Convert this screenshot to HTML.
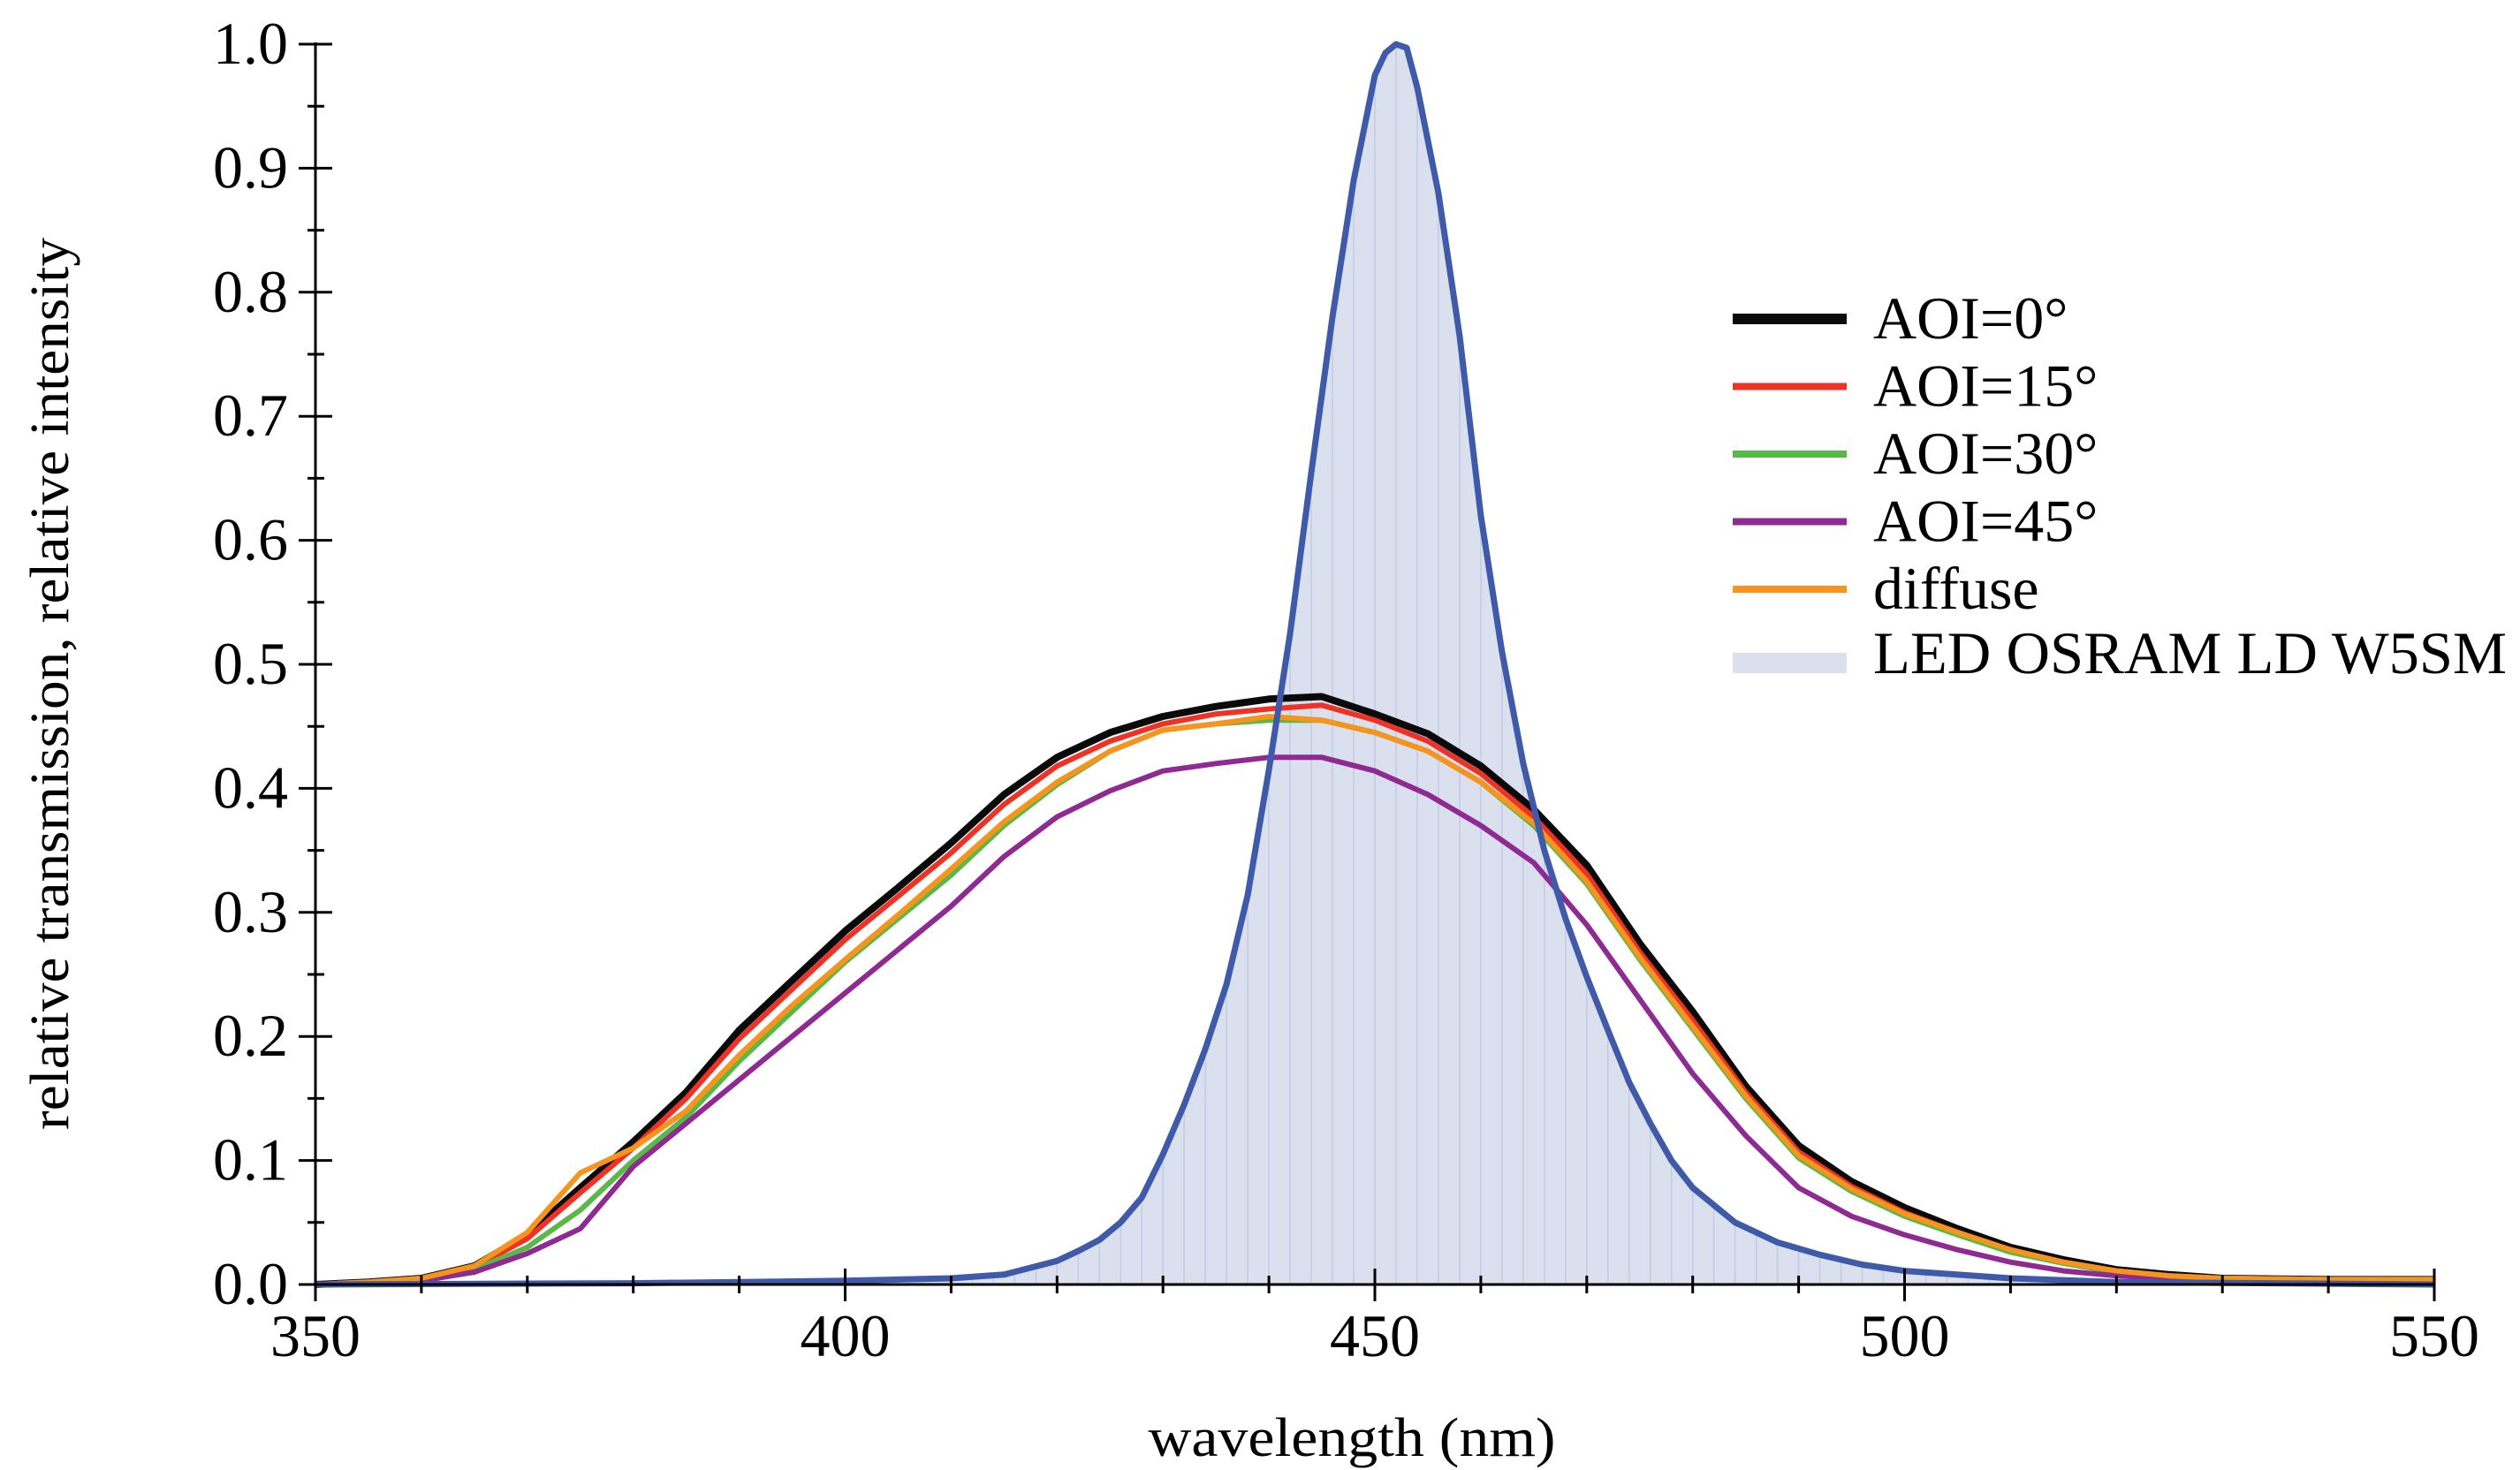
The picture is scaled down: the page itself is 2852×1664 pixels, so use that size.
<!DOCTYPE html>
<html><head><meta charset="utf-8">
<style>
html,body{margin:0;padding:0;background:#fff;}
svg{display:block;font-family:"Liberation Serif","DejaVu Serif",serif;}
</style></head>
<body>
<svg id="chart" width="2852" height="1664" viewBox="0 0 2852 1664" xmlns="http://www.w3.org/2000/svg">
<defs><clipPath id="ledClip"><path id="ledClipPath" d=""/></clipPath></defs>
<g id="plot"></g>
<g id="axes"></g>
<text transform="translate(77,774) rotate(-90)" text-anchor="middle" font-size="62" textLength="1010" lengthAdjust="spacingAndGlyphs">relative transmission, relative intensity</text>
<text x="1530" y="1648" text-anchor="middle" font-size="62" textLength="461" lengthAdjust="spacingAndGlyphs">wavelength  (nm)</text>
<g id="legend"></g>
</svg>
<script>
const wavelengths = [350,355,360,365,370,375,380,385,390,395,400,405,410,415,420,425,430,435,440,445,450,455,460,465,470,475,480,485,490,495,500,505,510,515,520,525,530,540,550];
const aoi0   = [0.0,0.002,0.005,0.015,0.04,0.078,0.115,0.155,0.205,0.245,0.285,0.32,0.356,0.395,0.425,0.445,0.458,0.466,0.472,0.474,0.46,0.444,0.418,0.383,0.338,0.275,0.22,0.16,0.112,0.083,0.062,0.045,0.03,0.02,0.012,0.008,0.005,0.004,0.004];
const aoi15  = [0.0,0.002,0.005,0.014,0.037,0.074,0.11,0.15,0.198,0.238,0.278,0.313,0.348,0.387,0.418,0.438,0.452,0.46,0.464,0.467,0.455,0.438,0.412,0.377,0.331,0.268,0.213,0.155,0.107,0.079,0.058,0.042,0.028,0.018,0.011,0.007,0.005,0.004,0.004];
const aoi30  = [0.0,0.001,0.004,0.012,0.03,0.06,0.1,0.135,0.18,0.22,0.26,0.295,0.33,0.37,0.403,0.43,0.447,0.452,0.455,0.455,0.445,0.43,0.405,0.37,0.323,0.262,0.206,0.15,0.102,0.075,0.055,0.04,0.026,0.017,0.01,0.007,0.005,0.004,0.004];
const aoi45  = [0.0,0.001,0.003,0.01,0.025,0.045,0.095,0.13,0.165,0.2,0.235,0.27,0.305,0.345,0.377,0.398,0.414,0.42,0.425,0.425,0.414,0.395,0.37,0.34,0.29,0.23,0.17,0.12,0.078,0.055,0.04,0.028,0.018,0.011,0.007,0.005,0.004,0.003,0.003];
const diffuse= [0.0,0.002,0.005,0.015,0.042,0.09,0.11,0.14,0.185,0.225,0.262,0.298,0.335,0.373,0.405,0.43,0.447,0.452,0.458,0.455,0.445,0.43,0.405,0.372,0.325,0.264,0.208,0.152,0.104,0.077,0.057,0.042,0.028,0.018,0.011,0.007,0.005,0.004,0.004];
const ledNm  = [350,380,390,400,410,415,420,422,424,426,428,430,432,434,436,438,440,442,444,446,448,450,451,452,453,454,456,458,460,462,464,466,468,470,472,474,476,478,480,484,488,492,496,500,510,520,550];
const ledVal = [0,0.001,0.002,0.003,0.005,0.008,0.019,0.027,0.036,0.05,0.07,0.105,0.145,0.19,0.242,0.314,0.415,0.525,0.655,0.78,0.89,0.975,0.993,1.0,0.997,0.965,0.88,0.765,0.62,0.51,0.42,0.35,0.295,0.248,0.205,0.163,0.13,0.1,0.078,0.05,0.034,0.024,0.016,0.011,0.005,0.002,0.0];
const yTicks = [0.0,0.1,0.2,0.3,0.4,0.5,0.6,0.7,0.8,0.9,1.0];
const yTickLabels = ["0.0","0.1","0.2","0.3","0.4","0.5","0.6","0.7","0.8","0.9","1.0"];
const xTicks = [350,400,450,500,550];
const xTickLabels = ["350","400","450","500","550"];
const legendLabels = ["AOI=0°","AOI=15°","AOI=30°","AOI=45°","diffuse","LED OSRAM  LD W5SM"];

const NS = "http://www.w3.org/2000/svg";
function X(nm){ return 357 + (nm-350)*(2755-357)/200; }
function Y(v){ return 1454 - v*1404; }
function mk(tag, attrs, parent){ const e=document.createElementNS(NS,tag); for(const k in attrs) e.setAttribute(k,attrs[k]); parent.appendChild(e); return e; }
const plot=document.getElementById('plot'), axes=document.getElementById('axes'), legend=document.getElementById('legend');

let ledD = "M"+X(ledNm[0])+","+Y(0);
ledNm.forEach((n,i)=>{ ledD += " L"+X(n).toFixed(1)+","+Y(ledVal[i]).toFixed(1); });
ledD += " L"+X(ledNm[ledNm.length-1])+","+Y(0)+" Z";
document.getElementById('ledClipPath').setAttribute('d', ledD);
const fill = mk('path',{d:ledD, fill:'#dae0ee', stroke:'none'}, plot);


const hatch = mk('g',{'clip-path':'url(#ledClip)'}, plot);


for(let n=380;n<=550;n+=2){ mk('line',{x1:X(n),x2:X(n),y1:Y(1.02),y2:Y(0),stroke:'#c4cbe4','stroke-width':1.5}, hatch); }

function line(xs, ys, color, w, name){
  const p = xs.map((n,i)=>(i?'L':'M')+X(n).toFixed(1)+','+Y(ys[i]).toFixed(1)).join(' ');
  const el = mk('path',{d:p, fill:'none', stroke:color, 'stroke-width':w, 'stroke-linejoin':'round'}, plot);
  
  
}
line(wavelengths, aoi0, '#0a0a0a', 8, 'series-aoi-0');
line(wavelengths, aoi15, '#ee3226', 6, 'series-aoi-15');
line(wavelengths, aoi30, '#58b848', 6, 'series-aoi-30');
line(wavelengths, aoi45, '#8e2a92', 6, 'series-aoi-45');
line(wavelengths, diffuse, '#f7941d', 6, 'series-diffuse');
line(ledNm, ledVal, '#3f5aa8', 7, 'series-led');

const ya = mk('line',{x1:357,x2:357,y1:48,y2:1473,stroke:'#000','stroke-width':3}, axes);


const xa = mk('line',{x1:338,x2:2756,y1:1454,y2:1454,stroke:'#000','stroke-width':3}, axes);


yTicks.forEach((v,i)=>{
  mk('line',{x1:338,x2:376,y1:Y(v),y2:Y(v),stroke:'#000','stroke-width':3}, axes);
  if(i<yTicks.length-1) mk('line',{x1:348,x2:367,y1:Y(v+0.05),y2:Y(v+0.05),stroke:'#000','stroke-width':3}, axes);
  const t = mk('text',{x:326,y:Y(v)+22,'text-anchor':'end','font-size':68}, axes);
  t.textContent = yTickLabels[i];
  
  
});
for(let n=360;n<550;n+=10){ if(n%50) mk('line',{x1:X(n),x2:X(n),y1:1444,y2:1464,stroke:'#000','stroke-width':3}, axes); }
xTicks.forEach((n,i)=>{
  mk('line',{x1:X(n),x2:X(n),y1:1436,y2:1473,stroke:'#000','stroke-width':3}, axes);
  const t = mk('text',{x:X(n),y:1535,'text-anchor':'middle','font-size':68}, axes);
  t.textContent = xTickLabels[i];
  
  
});

const legColors = ['#0a0a0a','#ee3226','#58b848','#8e2a92','#f7941d'];
const legW = [12,8,8,8,8];
legendLabels.forEach((lab,i)=>{
  const cy = 361 + i*76.5;
  const g = mk('g',{}, legend);
  
  
  if(i<5) mk('rect',{x:1961,y:cy-legW[i]/2,width:129,height:legW[i],fill:legColors[i]}, g);
  else mk('rect',{x:1961,y:739,width:129,height:23,fill:'#dae0ee'}, g);
  const attrs = {x:2120,y:(i<5?cy+22:762),'font-size':68};
  if(i===5){ attrs.textLength=717; attrs.lengthAdjust='spacingAndGlyphs'; }
  const t = mk('text',attrs, g);
  t.textContent = lab;
});
</script>
</body></html>
